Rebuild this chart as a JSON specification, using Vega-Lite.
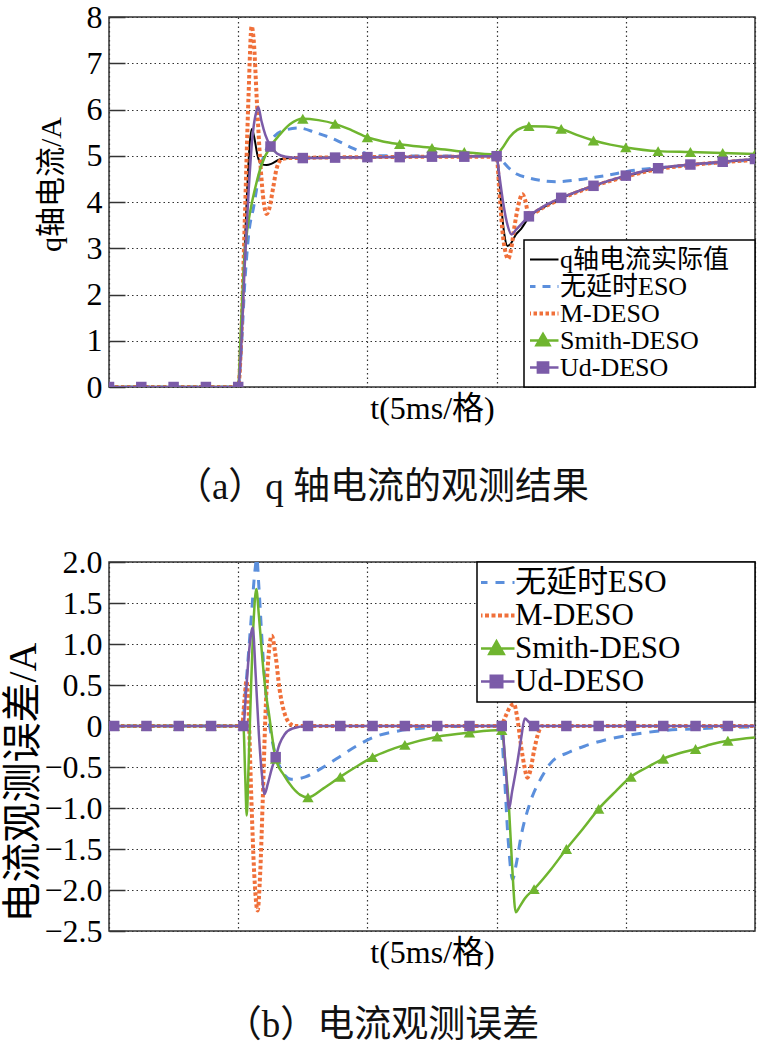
{
  "$schema": "https://vega.github.io/schema/vega-lite/v6.json",
  "background": "white",
  "padding": {"left": 3, "top": 0, "right": 2, "bottom": 0},
  "spacing": 38,
  "datasets": {
    "top": [
      {"s": "q轴电流实际值", "t": 0, "v": 0}, {"s": "q轴电流实际值", "t": 5, "v": 0}, {"s": "q轴电流实际值", "t": 5.1, "v": 0.8}, {"s": "q轴电流实际值", "t": 5.22, "v": 2.6}, {"s": "q轴电流实际值", "t": 5.35, "v": 4.3}, {"s": "q轴电流实际值", "t": 5.45, "v": 5.3}, {"s": "q轴电流实际值", "t": 5.53, "v": 5.58}, {"s": "q轴电流实际值", "t": 5.62, "v": 5.4}, {"s": "q轴电流实际值", "t": 5.75, "v": 5.0}, {"s": "q轴电流实际值", "t": 5.9, "v": 4.82}, {"s": "q轴电流实际值", "t": 6.1, "v": 4.8}, {"s": "q轴电流实际值", "t": 6.3, "v": 4.83}, {"s": "q轴电流实际值", "t": 6.6, "v": 4.92}, {"s": "q轴电流实际值", "t": 7, "v": 4.95}, {"s": "q轴电流实际值", "t": 10, "v": 4.97}, {"s": "q轴电流实际值", "t": 15, "v": 4.99}, {"s": "q轴电流实际值", "t": 15.1, "v": 4.5}, {"s": "q轴电流实际值", "t": 15.2, "v": 3.8}, {"s": "q轴电流实际值", "t": 15.3, "v": 3.3}, {"s": "q轴电流实际值", "t": 15.42, "v": 3.05}, {"s": "q轴电流实际值", "t": 15.55, "v": 3.1}, {"s": "q轴电流实际值", "t": 15.75, "v": 3.3}, {"s": "q轴电流实际值", "t": 15.95, "v": 3.42}, {"s": "q轴电流实际值", "t": 16.25, "v": 3.67}, {"s": "q轴电流实际值", "t": 16.8, "v": 3.88}, {"s": "q轴电流实际值", "t": 17.5, "v": 4.08}, {"s": "q轴电流实际值", "t": 18.75, "v": 4.35}, {"s": "q轴电流实际值", "t": 20, "v": 4.56}, {"s": "q轴电流实际值", "t": 21.25, "v": 4.72}, {"s": "q轴电流实际值", "t": 22.5, "v": 4.81}, {"s": "q轴电流实际值", "t": 23.75, "v": 4.87}, {"s": "q轴电流实际值", "t": 25, "v": 4.92},
      {"s": "无延时ESO", "t": 0, "v": 0}, {"s": "无延时ESO", "t": 5, "v": 0}, {"s": "无延时ESO", "t": 5.1, "v": 0.6}, {"s": "无延时ESO", "t": 5.25, "v": 2.2}, {"s": "无延时ESO", "t": 5.42, "v": 3.37}, {"s": "无延时ESO", "t": 5.6, "v": 3.9}, {"s": "无延时ESO", "t": 5.75, "v": 4.4}, {"s": "无延时ESO", "t": 5.9, "v": 4.82}, {"s": "无延时ESO", "t": 6.1, "v": 5.15}, {"s": "无延时ESO", "t": 6.4, "v": 5.42}, {"s": "无延时ESO", "t": 6.8, "v": 5.55}, {"s": "无延时ESO", "t": 7.35, "v": 5.6}, {"s": "无延时ESO", "t": 8, "v": 5.5}, {"s": "无延时ESO", "t": 8.75, "v": 5.35}, {"s": "无延时ESO", "t": 9.4, "v": 5.17}, {"s": "无延时ESO", "t": 10, "v": 5.04}, {"s": "无延时ESO", "t": 10.5, "v": 5.0}, {"s": "无延时ESO", "t": 15, "v": 4.99}, {"s": "无延时ESO", "t": 15.2, "v": 4.9}, {"s": "无延时ESO", "t": 15.5, "v": 4.72}, {"s": "无延时ESO", "t": 15.8, "v": 4.6}, {"s": "无延时ESO", "t": 16.25, "v": 4.52}, {"s": "无延时ESO", "t": 16.8, "v": 4.46}, {"s": "无延时ESO", "t": 17.3, "v": 4.44}, {"s": "无延时ESO", "t": 18, "v": 4.47}, {"s": "无延时ESO", "t": 18.75, "v": 4.53}, {"s": "无延时ESO", "t": 19.5, "v": 4.6}, {"s": "无延时ESO", "t": 20.25, "v": 4.68}, {"s": "无延时ESO", "t": 21.25, "v": 4.74}, {"s": "无延时ESO", "t": 22.5, "v": 4.8}, {"s": "无延时ESO", "t": 23.75, "v": 4.86}, {"s": "无延时ESO", "t": 25, "v": 4.91},
      {"s": "M-DESO", "t": 0, "v": 0}, {"s": "M-DESO", "t": 5, "v": 0}, {"s": "M-DESO", "t": 5.1, "v": 0.8}, {"s": "M-DESO", "t": 5.25, "v": 3.5}, {"s": "M-DESO", "t": 5.4, "v": 6.3}, {"s": "M-DESO", "t": 5.52, "v": 7.8}, {"s": "M-DESO", "t": 5.6, "v": 7.5}, {"s": "M-DESO", "t": 5.72, "v": 6.2}, {"s": "M-DESO", "t": 5.85, "v": 4.9}, {"s": "M-DESO", "t": 6.0, "v": 3.95}, {"s": "M-DESO", "t": 6.1, "v": 3.74}, {"s": "M-DESO", "t": 6.2, "v": 3.85}, {"s": "M-DESO", "t": 6.35, "v": 4.3}, {"s": "M-DESO", "t": 6.5, "v": 4.75}, {"s": "M-DESO", "t": 6.7, "v": 4.93}, {"s": "M-DESO", "t": 7, "v": 4.95}, {"s": "M-DESO", "t": 10, "v": 4.97}, {"s": "M-DESO", "t": 15, "v": 4.98}, {"s": "M-DESO", "t": 15.1, "v": 4.3}, {"s": "M-DESO", "t": 15.22, "v": 3.4}, {"s": "M-DESO", "t": 15.35, "v": 2.9}, {"s": "M-DESO", "t": 15.45, "v": 2.77}, {"s": "M-DESO", "t": 15.55, "v": 2.95}, {"s": "M-DESO", "t": 15.7, "v": 3.5}, {"s": "M-DESO", "t": 15.85, "v": 3.95}, {"s": "M-DESO", "t": 16.0, "v": 4.17}, {"s": "M-DESO", "t": 16.1, "v": 4.05}, {"s": "M-DESO", "t": 16.25, "v": 3.72}, {"s": "M-DESO", "t": 16.4, "v": 3.75}, {"s": "M-DESO", "t": 16.8, "v": 3.88}, {"s": "M-DESO", "t": 17.5, "v": 4.07}, {"s": "M-DESO", "t": 18.75, "v": 4.34}, {"s": "M-DESO", "t": 20, "v": 4.55}, {"s": "M-DESO", "t": 21.25, "v": 4.71}, {"s": "M-DESO", "t": 22.5, "v": 4.8}, {"s": "M-DESO", "t": 23.75, "v": 4.86}, {"s": "M-DESO", "t": 25, "v": 4.91},
      {"s": "Smith-DESO", "t": 0, "v": 0}, {"s": "Smith-DESO", "t": 5, "v": 0}, {"s": "Smith-DESO", "t": 5.1, "v": 1.2}, {"s": "Smith-DESO", "t": 5.22, "v": 2.6}, {"s": "Smith-DESO", "t": 5.35, "v": 3.4}, {"s": "Smith-DESO", "t": 5.5, "v": 3.9}, {"s": "Smith-DESO", "t": 5.7, "v": 4.4}, {"s": "Smith-DESO", "t": 5.9, "v": 4.8}, {"s": "Smith-DESO", "t": 6.25, "v": 5.2}, {"s": "Smith-DESO", "t": 6.6, "v": 5.45}, {"s": "Smith-DESO", "t": 7.0, "v": 5.68}, {"s": "Smith-DESO", "t": 7.5, "v": 5.8}, {"s": "Smith-DESO", "t": 8.1, "v": 5.77}, {"s": "Smith-DESO", "t": 8.75, "v": 5.69}, {"s": "Smith-DESO", "t": 9.4, "v": 5.55}, {"s": "Smith-DESO", "t": 10, "v": 5.4}, {"s": "Smith-DESO", "t": 10.6, "v": 5.31}, {"s": "Smith-DESO", "t": 11.25, "v": 5.25}, {"s": "Smith-DESO", "t": 12.5, "v": 5.17}, {"s": "Smith-DESO", "t": 13.75, "v": 5.08}, {"s": "Smith-DESO", "t": 15, "v": 5.03}, {"s": "Smith-DESO", "t": 15.2, "v": 5.15}, {"s": "Smith-DESO", "t": 15.5, "v": 5.4}, {"s": "Smith-DESO", "t": 15.8, "v": 5.56}, {"s": "Smith-DESO", "t": 16.25, "v": 5.64}, {"s": "Smith-DESO", "t": 16.9, "v": 5.63}, {"s": "Smith-DESO", "t": 17.5, "v": 5.58}, {"s": "Smith-DESO", "t": 18.1, "v": 5.45}, {"s": "Smith-DESO", "t": 18.75, "v": 5.33}, {"s": "Smith-DESO", "t": 19.4, "v": 5.24}, {"s": "Smith-DESO", "t": 20, "v": 5.18}, {"s": "Smith-DESO", "t": 21.25, "v": 5.1}, {"s": "Smith-DESO", "t": 22.5, "v": 5.08}, {"s": "Smith-DESO", "t": 23.75, "v": 5.06}, {"s": "Smith-DESO", "t": 25, "v": 5.04},
      {"s": "Ud-DESO", "t": 0, "v": 0}, {"s": "Ud-DESO", "t": 5, "v": 0}, {"s": "Ud-DESO", "t": 5.1, "v": 0.7}, {"s": "Ud-DESO", "t": 5.25, "v": 2.6}, {"s": "Ud-DESO", "t": 5.4, "v": 4.2}, {"s": "Ud-DESO", "t": 5.55, "v": 5.4}, {"s": "Ud-DESO", "t": 5.7, "v": 5.95}, {"s": "Ud-DESO", "t": 5.78, "v": 6.05}, {"s": "Ud-DESO", "t": 5.9, "v": 5.75}, {"s": "Ud-DESO", "t": 6.05, "v": 5.45}, {"s": "Ud-DESO", "t": 6.26, "v": 5.2}, {"s": "Ud-DESO", "t": 6.5, "v": 5.05}, {"s": "Ud-DESO", "t": 6.84, "v": 4.98}, {"s": "Ud-DESO", "t": 7.5, "v": 4.95}, {"s": "Ud-DESO", "t": 10, "v": 4.97}, {"s": "Ud-DESO", "t": 15, "v": 4.99}, {"s": "Ud-DESO", "t": 15.1, "v": 4.6}, {"s": "Ud-DESO", "t": 15.25, "v": 4.0}, {"s": "Ud-DESO", "t": 15.4, "v": 3.55}, {"s": "Ud-DESO", "t": 15.58, "v": 3.3}, {"s": "Ud-DESO", "t": 15.75, "v": 3.4}, {"s": "Ud-DESO", "t": 16.0, "v": 3.55}, {"s": "Ud-DESO", "t": 16.25, "v": 3.69}, {"s": "Ud-DESO", "t": 16.8, "v": 3.9}, {"s": "Ud-DESO", "t": 17.5, "v": 4.09}, {"s": "Ud-DESO", "t": 18.75, "v": 4.35}, {"s": "Ud-DESO", "t": 20, "v": 4.57}, {"s": "Ud-DESO", "t": 21.25, "v": 4.73}, {"s": "Ud-DESO", "t": 22.5, "v": 4.81}, {"s": "Ud-DESO", "t": 23.75, "v": 4.87}, {"s": "Ud-DESO", "t": 25, "v": 4.93}
    ],
    "topm": [
      {"s": "Smith-DESO", "t": 0, "v": 0}, {"s": "Smith-DESO", "t": 1.25, "v": 0}, {"s": "Smith-DESO", "t": 2.5, "v": 0}, {"s": "Smith-DESO", "t": 3.75, "v": 0}, {"s": "Smith-DESO", "t": 5, "v": 0}, {"s": "Smith-DESO", "t": 6.25, "v": 5.2}, {"s": "Smith-DESO", "t": 7.5, "v": 5.8}, {"s": "Smith-DESO", "t": 8.75, "v": 5.69}, {"s": "Smith-DESO", "t": 10, "v": 5.4}, {"s": "Smith-DESO", "t": 11.25, "v": 5.25}, {"s": "Smith-DESO", "t": 12.5, "v": 5.17}, {"s": "Smith-DESO", "t": 13.75, "v": 5.08}, {"s": "Smith-DESO", "t": 15, "v": 5.03}, {"s": "Smith-DESO", "t": 16.25, "v": 5.64}, {"s": "Smith-DESO", "t": 17.5, "v": 5.58}, {"s": "Smith-DESO", "t": 18.75, "v": 5.33}, {"s": "Smith-DESO", "t": 20, "v": 5.18}, {"s": "Smith-DESO", "t": 21.25, "v": 5.1}, {"s": "Smith-DESO", "t": 22.5, "v": 5.08}, {"s": "Smith-DESO", "t": 23.75, "v": 5.06}, {"s": "Smith-DESO", "t": 25, "v": 5.04},
      {"s": "Ud-DESO", "t": 0, "v": 0}, {"s": "Ud-DESO", "t": 1.25, "v": 0}, {"s": "Ud-DESO", "t": 2.5, "v": 0}, {"s": "Ud-DESO", "t": 3.75, "v": 0}, {"s": "Ud-DESO", "t": 5, "v": 0}, {"s": "Ud-DESO", "t": 6.25, "v": 5.2}, {"s": "Ud-DESO", "t": 7.5, "v": 4.95}, {"s": "Ud-DESO", "t": 8.75, "v": 4.96}, {"s": "Ud-DESO", "t": 10, "v": 4.97}, {"s": "Ud-DESO", "t": 11.25, "v": 4.97}, {"s": "Ud-DESO", "t": 12.5, "v": 4.98}, {"s": "Ud-DESO", "t": 13.75, "v": 4.98}, {"s": "Ud-DESO", "t": 15, "v": 4.99}, {"s": "Ud-DESO", "t": 16.25, "v": 3.69}, {"s": "Ud-DESO", "t": 17.5, "v": 4.09}, {"s": "Ud-DESO", "t": 18.75, "v": 4.35}, {"s": "Ud-DESO", "t": 20, "v": 4.57}, {"s": "Ud-DESO", "t": 21.25, "v": 4.73}, {"s": "Ud-DESO", "t": 22.5, "v": 4.81}, {"s": "Ud-DESO", "t": 23.75, "v": 4.87}, {"s": "Ud-DESO", "t": 25, "v": 4.93}
    ],
    "bot": [
      {"s": "无延时ESO", "t": 0, "v": 0}, {"s": "无延时ESO", "t": 5.15, "v": 0}, {"s": "无延时ESO", "t": 5.3, "v": 0.5}, {"s": "无延时ESO", "t": 5.5, "v": 1.3}, {"s": "无延时ESO", "t": 5.65, "v": 1.9}, {"s": "无延时ESO", "t": 5.72, "v": 2.05}, {"s": "无延时ESO", "t": 5.8, "v": 1.7}, {"s": "无延时ESO", "t": 5.95, "v": 0.9}, {"s": "无延时ESO", "t": 6.1, "v": 0.3}, {"s": "无延时ESO", "t": 6.3, "v": -0.15}, {"s": "无延时ESO", "t": 6.55, "v": -0.45}, {"s": "无延时ESO", "t": 6.8, "v": -0.6}, {"s": "无延时ESO", "t": 7.05, "v": -0.65}, {"s": "无延时ESO", "t": 7.6, "v": -0.62}, {"s": "无延时ESO", "t": 8.2, "v": -0.52}, {"s": "无延时ESO", "t": 8.9, "v": -0.38}, {"s": "无延时ESO", "t": 9.6, "v": -0.24}, {"s": "无延时ESO", "t": 10.3, "v": -0.13}, {"s": "无延时ESO", "t": 11.2, "v": -0.06}, {"s": "无延时ESO", "t": 12.5, "v": -0.02}, {"s": "无延时ESO", "t": 14, "v": 0}, {"s": "无延时ESO", "t": 15.15, "v": 0}, {"s": "无延时ESO", "t": 15.3, "v": -0.6}, {"s": "无延时ESO", "t": 15.45, "v": -1.4}, {"s": "无延时ESO", "t": 15.62, "v": -1.87}, {"s": "无延时ESO", "t": 15.75, "v": -1.7}, {"s": "无延时ESO", "t": 15.95, "v": -1.34}, {"s": "无延时ESO", "t": 16.3, "v": -0.93}, {"s": "无延时ESO", "t": 16.75, "v": -0.62}, {"s": "无延时ESO", "t": 17.1, "v": -0.45}, {"s": "无延时ESO", "t": 17.8, "v": -0.32}, {"s": "无延时ESO", "t": 18.45, "v": -0.24}, {"s": "无延时ESO", "t": 19.2, "v": -0.17}, {"s": "无延时ESO", "t": 20, "v": -0.12}, {"s": "无延时ESO", "t": 21.3, "v": -0.06}, {"s": "无延时ESO", "t": 23, "v": -0.03}, {"s": "无延时ESO", "t": 25, "v": -0.01},
      {"s": "M-DESO", "t": 0, "v": 0}, {"s": "M-DESO", "t": 5.15, "v": 0}, {"s": "M-DESO", "t": 5.25, "v": 0.35}, {"s": "M-DESO", "t": 5.32, "v": 0.55}, {"s": "M-DESO", "t": 5.4, "v": 0.2}, {"s": "M-DESO", "t": 5.5, "v": -0.8}, {"s": "M-DESO", "t": 5.62, "v": -1.8}, {"s": "M-DESO", "t": 5.75, "v": -2.25}, {"s": "M-DESO", "t": 5.85, "v": -1.8}, {"s": "M-DESO", "t": 5.95, "v": -0.9}, {"s": "M-DESO", "t": 6.05, "v": 0.1}, {"s": "M-DESO", "t": 6.15, "v": 0.75}, {"s": "M-DESO", "t": 6.3, "v": 1.1}, {"s": "M-DESO", "t": 6.45, "v": 0.85}, {"s": "M-DESO", "t": 6.6, "v": 0.45}, {"s": "M-DESO", "t": 6.8, "v": 0.15}, {"s": "M-DESO", "t": 7.0, "v": 0.03}, {"s": "M-DESO", "t": 7.2, "v": 0}, {"s": "M-DESO", "t": 15.15, "v": 0}, {"s": "M-DESO", "t": 15.35, "v": 0.12}, {"s": "M-DESO", "t": 15.5, "v": 0.22}, {"s": "M-DESO", "t": 15.67, "v": 0.27}, {"s": "M-DESO", "t": 15.8, "v": 0.1}, {"s": "M-DESO", "t": 15.95, "v": -0.25}, {"s": "M-DESO", "t": 16.08, "v": -0.5}, {"s": "M-DESO", "t": 16.19, "v": -0.63}, {"s": "M-DESO", "t": 16.3, "v": -0.55}, {"s": "M-DESO", "t": 16.45, "v": -0.3}, {"s": "M-DESO", "t": 16.6, "v": -0.1}, {"s": "M-DESO", "t": 16.75, "v": 0}, {"s": "M-DESO", "t": 25, "v": 0},
      {"s": "Smith-DESO", "t": 0, "v": 0}, {"s": "Smith-DESO", "t": 5.2, "v": 0}, {"s": "Smith-DESO", "t": 5.27, "v": -0.6}, {"s": "Smith-DESO", "t": 5.33, "v": -1.09}, {"s": "Smith-DESO", "t": 5.4, "v": -0.5}, {"s": "Smith-DESO", "t": 5.5, "v": 0.5}, {"s": "Smith-DESO", "t": 5.6, "v": 1.3}, {"s": "Smith-DESO", "t": 5.7, "v": 1.67}, {"s": "Smith-DESO", "t": 5.8, "v": 1.35}, {"s": "Smith-DESO", "t": 5.92, "v": 0.88}, {"s": "Smith-DESO", "t": 6.05, "v": 0.45}, {"s": "Smith-DESO", "t": 6.19, "v": 0.15}, {"s": "Smith-DESO", "t": 6.3, "v": -0.1}, {"s": "Smith-DESO", "t": 6.45, "v": -0.4}, {"s": "Smith-DESO", "t": 6.77, "v": -0.6}, {"s": "Smith-DESO", "t": 7.1, "v": -0.75}, {"s": "Smith-DESO", "t": 7.4, "v": -0.84}, {"s": "Smith-DESO", "t": 7.7, "v": -0.87}, {"s": "Smith-DESO", "t": 8.3, "v": -0.76}, {"s": "Smith-DESO", "t": 8.95, "v": -0.62}, {"s": "Smith-DESO", "t": 9.55, "v": -0.5}, {"s": "Smith-DESO", "t": 10.2, "v": -0.38}, {"s": "Smith-DESO", "t": 10.8, "v": -0.3}, {"s": "Smith-DESO", "t": 11.45, "v": -0.23}, {"s": "Smith-DESO", "t": 12.7, "v": -0.13}, {"s": "Smith-DESO", "t": 13.95, "v": -0.08}, {"s": "Smith-DESO", "t": 15.2, "v": -0.05}, {"s": "Smith-DESO", "t": 15.35, "v": -0.5}, {"s": "Smith-DESO", "t": 15.48, "v": -1.0}, {"s": "Smith-DESO", "t": 15.6, "v": -1.7}, {"s": "Smith-DESO", "t": 15.74, "v": -2.27}, {"s": "Smith-DESO", "t": 15.9, "v": -2.2}, {"s": "Smith-DESO", "t": 16.1, "v": -2.1}, {"s": "Smith-DESO", "t": 16.45, "v": -1.99}, {"s": "Smith-DESO", "t": 17.1, "v": -1.75}, {"s": "Smith-DESO", "t": 17.7, "v": -1.5}, {"s": "Smith-DESO", "t": 18.35, "v": -1.25}, {"s": "Smith-DESO", "t": 18.95, "v": -1.01}, {"s": "Smith-DESO", "t": 19.6, "v": -0.8}, {"s": "Smith-DESO", "t": 20.2, "v": -0.62}, {"s": "Smith-DESO", "t": 20.85, "v": -0.5}, {"s": "Smith-DESO", "t": 21.45, "v": -0.4}, {"s": "Smith-DESO", "t": 22.1, "v": -0.33}, {"s": "Smith-DESO", "t": 22.7, "v": -0.28}, {"s": "Smith-DESO", "t": 23.35, "v": -0.22}, {"s": "Smith-DESO", "t": 23.95, "v": -0.18}, {"s": "Smith-DESO", "t": 25, "v": -0.14},
      {"s": "Ud-DESO", "t": 0, "v": 0}, {"s": "Ud-DESO", "t": 5.2, "v": 0}, {"s": "Ud-DESO", "t": 5.3, "v": 0.4}, {"s": "Ud-DESO", "t": 5.45, "v": 1.0}, {"s": "Ud-DESO", "t": 5.56, "v": 1.2}, {"s": "Ud-DESO", "t": 5.68, "v": 0.6}, {"s": "Ud-DESO", "t": 5.8, "v": -0.1}, {"s": "Ud-DESO", "t": 5.92, "v": -0.6}, {"s": "Ud-DESO", "t": 6.02, "v": -0.83}, {"s": "Ud-DESO", "t": 6.15, "v": -0.7}, {"s": "Ud-DESO", "t": 6.3, "v": -0.52}, {"s": "Ud-DESO", "t": 6.45, "v": -0.38}, {"s": "Ud-DESO", "t": 6.6, "v": -0.22}, {"s": "Ud-DESO", "t": 6.8, "v": -0.1}, {"s": "Ud-DESO", "t": 7.1, "v": -0.03}, {"s": "Ud-DESO", "t": 7.7, "v": 0}, {"s": "Ud-DESO", "t": 15.2, "v": 0}, {"s": "Ud-DESO", "t": 15.35, "v": -0.5}, {"s": "Ud-DESO", "t": 15.48, "v": -1.01}, {"s": "Ud-DESO", "t": 15.6, "v": -0.8}, {"s": "Ud-DESO", "t": 15.8, "v": -0.45}, {"s": "Ud-DESO", "t": 15.95, "v": -0.15}, {"s": "Ud-DESO", "t": 16.09, "v": 0.09}, {"s": "Ud-DESO", "t": 16.25, "v": 0.05}, {"s": "Ud-DESO", "t": 16.45, "v": 0}, {"s": "Ud-DESO", "t": 25, "v": 0}
    ],
    "botm": [
      {"s": "Smith-DESO", "t": 0.2, "v": 0}, {"s": "Smith-DESO", "t": 1.45, "v": 0}, {"s": "Smith-DESO", "t": 2.7, "v": 0}, {"s": "Smith-DESO", "t": 3.95, "v": 0}, {"s": "Smith-DESO", "t": 5.2, "v": 0}, {"s": "Smith-DESO", "t": 6.45, "v": -0.4}, {"s": "Smith-DESO", "t": 7.7, "v": -0.87}, {"s": "Smith-DESO", "t": 8.95, "v": -0.62}, {"s": "Smith-DESO", "t": 10.2, "v": -0.38}, {"s": "Smith-DESO", "t": 11.45, "v": -0.23}, {"s": "Smith-DESO", "t": 12.7, "v": -0.13}, {"s": "Smith-DESO", "t": 13.95, "v": -0.08}, {"s": "Smith-DESO", "t": 15.2, "v": -0.05}, {"s": "Smith-DESO", "t": 16.45, "v": -1.99}, {"s": "Smith-DESO", "t": 17.7, "v": -1.5}, {"s": "Smith-DESO", "t": 18.95, "v": -1.01}, {"s": "Smith-DESO", "t": 20.2, "v": -0.62}, {"s": "Smith-DESO", "t": 21.45, "v": -0.4}, {"s": "Smith-DESO", "t": 22.7, "v": -0.28}, {"s": "Smith-DESO", "t": 23.95, "v": -0.18},
      {"s": "Ud-DESO", "t": 0.2, "v": 0}, {"s": "Ud-DESO", "t": 1.45, "v": 0}, {"s": "Ud-DESO", "t": 2.7, "v": 0}, {"s": "Ud-DESO", "t": 3.95, "v": 0}, {"s": "Ud-DESO", "t": 5.2, "v": 0}, {"s": "Ud-DESO", "t": 6.45, "v": -0.38}, {"s": "Ud-DESO", "t": 7.7, "v": 0}, {"s": "Ud-DESO", "t": 8.95, "v": 0}, {"s": "Ud-DESO", "t": 10.2, "v": 0}, {"s": "Ud-DESO", "t": 11.45, "v": 0}, {"s": "Ud-DESO", "t": 12.7, "v": 0}, {"s": "Ud-DESO", "t": 13.95, "v": 0}, {"s": "Ud-DESO", "t": 15.2, "v": 0}, {"s": "Ud-DESO", "t": 16.45, "v": 0}, {"s": "Ud-DESO", "t": 17.7, "v": 0}, {"s": "Ud-DESO", "t": 18.95, "v": 0}, {"s": "Ud-DESO", "t": 20.2, "v": 0}, {"s": "Ud-DESO", "t": 21.45, "v": 0}, {"s": "Ud-DESO", "t": 22.7, "v": 0}, {"s": "Ud-DESO", "t": 23.95, "v": 0}
    ]
  },
  "resolve": {"scale": {"color": "independent"}, "legend": {"color": "independent"}},
  "vconcat": [
    {
      "width": 646,
      "height": 370,
      "title": {"text": "（a）q 轴电流的观测结果", "orient": "bottom", "anchor": "middle", "offset": 46, "dx": -50, "fontSize": 37, "font": "Liberation Serif, Noto Sans CJK SC", "fontWeight": "normal", "color": "#111"},
      "encoding": {
        "x": {"field": "t", "type": "quantitative", "scale": {"domain": [0, 25], "nice": false, "zero": false}, "axis": {"values": [0, 5, 10, 15, 20, 25], "title": "t(5ms/格)"}},
        "y": {"field": "v", "type": "quantitative", "scale": {"domain": [0, 8], "nice": false, "zero": false}, "axis": {"values": [0, 1, 2, 3, 4, 5, 6, 7, 8], "format": "d", "title": "q轴电流/A", "titleFontSize": 30, "titlePadding": 20, "titleY": 167}},
        "color": {
          "field": "s", "type": "nominal",
          "scale": {"domain": ["q轴电流实际值", "无延时ESO", "M-DESO", "Smith-DESO", "Ud-DESO"], "range": ["#000000", "#5b8fdc", "#f0703a", "#6fb52f", "#7b5ba8"]},
          "legend": {
            "title": null, "orient": "bottom-right", "offset": 0, "padding": 6,
            "strokeColor": "#000", "fillColor": "#fff",
            "labelFont": "Liberation Serif, Noto Sans CJK SC", "labelFontSize": 26, "labelColor": "#000", "labelOffset": 4, "labelLimit": 400,
            "labelExpr": "datum.label + '\u00a0\u00a0\u00a0\u200b'",
            "symbolSize": 961, "clipHeight": 27, "rowPadding": 0,
            "encoding": {
              "legend": {"strokeWidth": {"value": 1.5}},
              "symbols": {
                "shape": {"value": {"expr": "datum.value == 'Smith-DESO' ? 'M-1,0H1M0,-0.42L0.42,0.3L-0.42,0.3Z' : datum.value == 'Ud-DESO' ? 'M-1,0H1M-0.33,-0.33H0.33V0.33H-0.33Z' : 'M-1,0H1'"}},
                "stroke": {"value": {"expr": "datum.value == 'q轴电流实际值' ? '#000000' : datum.value == '无延时ESO' ? '#5b8fdc' : datum.value == 'M-DESO' ? '#f0703a' : datum.value == 'Smith-DESO' ? '#6fb52f' : '#7b5ba8'"}},
                "fill": {"value": {"expr": "datum.value == 'Smith-DESO' ? '#6fb52f' : datum.value == 'Ud-DESO' ? '#7b5ba8' : 'transparent'"}},
                "strokeDash": {"value": {"expr": "datum.value == '无延时ESO' ? [8, 7] : datum.value == 'M-DESO' ? [3.5, 2.5] : [1, 0]"}},
                "strokeWidth": {"value": {"expr": "datum.value == '无延时ESO' ? 3 : datum.value == 'M-DESO' ? 4 : datum.value == 'q轴电流实际值' ? 2 : 2.5"}},
                "opacity": {"value": 1}
              }
            }
          }
        }
      },
      "layer": [
        {"data": {"name": "top"}, "transform": [{"filter": "datum.s == 'q轴电流实际值'"}], "mark": {"type": "line", "strokeWidth": 2, "clip": true, "interpolate": "monotone"}},
        {"data": {"name": "top"}, "transform": [{"filter": "datum.s == '无延时ESO'"}], "mark": {"type": "line", "strokeWidth": 3, "strokeDash": [9, 7], "clip": true, "interpolate": "monotone"}},
        {"data": {"name": "top"}, "transform": [{"filter": "datum.s == 'M-DESO'"}], "mark": {"type": "line", "strokeWidth": 4, "strokeDash": [3.5, 2.5], "clip": true, "interpolate": "monotone"}},
        {"data": {"name": "top"}, "transform": [{"filter": "datum.s == 'Smith-DESO'"}], "mark": {"type": "line", "strokeWidth": 2.5, "clip": true, "interpolate": "monotone"}},
        {"data": {"name": "top"}, "transform": [{"filter": "datum.s == 'Ud-DESO'"}], "mark": {"type": "line", "strokeWidth": 2.5, "clip": true, "interpolate": "monotone"}},
        {"data": {"name": "topm"}, "transform": [{"filter": "datum.s == 'Smith-DESO'"}], "mark": {"type": "point", "shape": "triangle-up", "filled": true, "size": 130, "opacity": 1, "clip": true}},
        {"data": {"name": "topm"}, "transform": [{"filter": "datum.s == 'Ud-DESO'"}], "mark": {"type": "point", "shape": "square", "filled": true, "size": 110, "opacity": 1, "clip": true}}
      ]
    },
    {
      "width": 646,
      "height": 369,
      "title": {"text": "（b）电流观测误差", "orient": "bottom", "anchor": "middle", "offset": 40, "dx": -50, "fontSize": 37, "font": "Liberation Serif, Noto Sans CJK SC", "fontWeight": "normal", "color": "#111"},
      "encoding": {
        "x": {"field": "t", "type": "quantitative", "scale": {"domain": [0, 25], "nice": false, "zero": false}, "axis": {"values": [0, 5, 10, 15, 20, 25], "title": "t(5ms/格)"}},
        "y": {"field": "v", "type": "quantitative", "scale": {"domain": [-2.5, 2], "nice": false, "zero": false}, "axis": {"values": [-2.5, -2, -1.5, -1, -0.5, 0, 0.5, 1, 1.5, 2], "labelExpr": "datum.value == 0 ? '0' : format(datum.value, '.1f')", "title": "电流观测误差/A", "titleFontSize": 40, "titlePadding": 0, "titleY": 220}},
        "color": {
          "field": "s", "type": "nominal",
          "scale": {"domain": ["无延时ESO", "M-DESO", "Smith-DESO", "Ud-DESO"], "range": ["#5b8fdc", "#f0703a", "#6fb52f", "#7b5ba8"]},
          "legend": {
            "title": null, "orient": "top-right", "offset": 0, "padding": 4,
            "strokeColor": "#000", "fillColor": "#fff",
            "labelFont": "Liberation Serif, Noto Sans CJK SC", "labelFontSize": 31, "labelColor": "#000", "labelOffset": 3, "labelLimit": 600,
            "labelExpr": "datum.label + '\u00a0\u00a0\u00a0\u00a0\u00a0\u00a0\u00a0\u00a0\u00a0\u200b'",
            "symbolSize": 1296, "clipHeight": 33, "rowPadding": 0,
            "encoding": {
              "legend": {"strokeWidth": {"value": 1.5}},
              "symbols": {
                "shape": {"value": {"expr": "datum.value == 'Smith-DESO' ? 'M-1,0H1M0,-0.4L0.4,0.3L-0.4,0.3Z' : datum.value == 'Ud-DESO' ? 'M-1,0H1M-0.32,-0.32H0.32V0.32H-0.32Z' : 'M-1,0H1'"}},
                "stroke": {"value": {"expr": "datum.value == '无延时ESO' ? '#5b8fdc' : datum.value == 'M-DESO' ? '#f0703a' : datum.value == 'Smith-DESO' ? '#6fb52f' : '#7b5ba8'"}},
                "fill": {"value": {"expr": "datum.value == 'Smith-DESO' ? '#6fb52f' : datum.value == 'Ud-DESO' ? '#7b5ba8' : 'transparent'"}},
                "strokeDash": {"value": {"expr": "datum.value == '无延时ESO' ? [9, 8] : datum.value == 'M-DESO' ? [4, 2.5] : [1, 0]"}},
                "strokeWidth": {"value": {"expr": "datum.value == '无延时ESO' ? 3 : datum.value == 'M-DESO' ? 4 : 2.5"}},
                "opacity": {"value": 1}
              }
            }
          }
        }
      },
      "layer": [
        {"data": {"name": "bot"}, "transform": [{"filter": "datum.s == '无延时ESO'"}], "mark": {"type": "line", "strokeWidth": 3, "strokeDash": [10, 8], "clip": true, "interpolate": "monotone"}},
        {"data": {"name": "bot"}, "transform": [{"filter": "datum.s == 'M-DESO'"}], "mark": {"type": "line", "strokeWidth": 4, "strokeDash": [3.5, 2.5], "clip": true, "interpolate": "monotone"}},
        {"data": {"name": "bot"}, "transform": [{"filter": "datum.s == 'Smith-DESO'"}], "mark": {"type": "line", "strokeWidth": 2.5, "clip": true, "interpolate": "monotone"}},
        {"data": {"name": "bot"}, "transform": [{"filter": "datum.s == 'Ud-DESO'"}], "mark": {"type": "line", "strokeWidth": 2.5, "clip": true, "interpolate": "monotone"}},
        {"data": {"name": "botm"}, "transform": [{"filter": "datum.s == 'Smith-DESO'"}], "mark": {"type": "point", "shape": "triangle-up", "filled": true, "size": 130, "opacity": 1, "clip": true}},
        {"data": {"name": "botm"}, "transform": [{"filter": "datum.s == 'Ud-DESO'"}], "mark": {"type": "point", "shape": "square", "filled": true, "size": 110, "opacity": 1, "clip": true}}
      ]
    }
  ],
  "config": {
    "view": {"stroke": "#333", "strokeWidth": 1.5},
    "axis": {
      "labelFont": "Liberation Serif", "labelFontSize": 32, "labelColor": "#000",
      "titleFont": "Liberation Serif, Noto Sans CJK SC", "titleFontWeight": "normal", "titleColor": "#000",
      "gridColor": "#333", "gridDash": [1.5, 3], "gridWidth": 1.2, "gridOpacity": 1,
      "domain": false, "tickColor": "#333", "tickWidth": 1.5
    },
    "axisY": {"tickSize": -16, "labelPadding": 23},
    "axisX": {"ticks": false, "labels": false, "titleFontSize": 32, "titlePadding": 6, "titleFont": "Liberation Serif, Noto Sans CJK SC"}
  }
}
